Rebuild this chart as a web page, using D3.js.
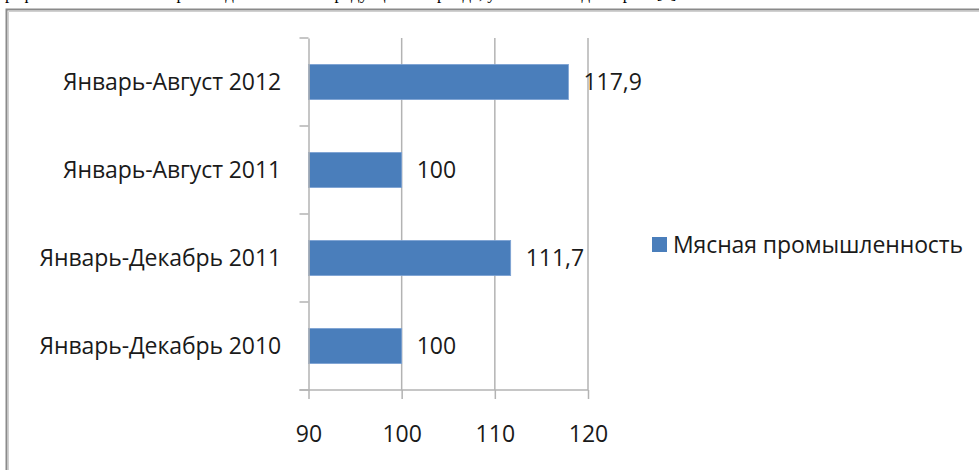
<!DOCTYPE html>
<html>
<head>
<meta charset="utf-8">
<script src="https://cdn.jsdelivr.net/npm/d3@7"></script>
<style>
  html, body { margin: 0; padding: 0; background: #fff; }
  svg { display: block; }
</style>
</head>
<body>
<svg id="chart" width="979" height="470"></svg>
<script>
// Index of meat industry output, by period (previous period = 100)
const categories = ["Январь-Август 2012", "Январь-Август 2011", "Январь-Декабрь 2011", "Январь-Декабрь 2010"];
const values = [117.9, 100, 111.7, 100];
const valueLabels = ["117,9", "100", "111,7", "100"];
const xTicks = [90, 100, 110, 120];
const seriesName = "Мясная промышленность";

const font = "'Open Sans', 'DejaVu Sans', sans-serif";
const svg = d3.select("#chart");

// Fragment of the preceding paragraph, clipped by the top edge
svg.append("text")
  .attr("x", -2).attr("y", -1)
  .attr("font-family", "'Liberation Serif', serif")
  .attr("font-size", 17)
  .attr("fill", "#000")
  .text("графически изменение производства мясной продукции в периоде, указанные года на рис. [1].");

// Outer frame of the chart object (runs past the right and bottom edges)
svg.append("path")
  .attr("d", "M6.5,480 V9.5 H990")
  .attr("fill", "none").attr("stroke", "#8a8a8a").attr("stroke-width", 2);
svg.append("path")
  .attr("d", "M8.5,480 V11.5 H990")
  .attr("fill", "none").attr("stroke", "#d0d0d0").attr("stroke-width", 1);

const plot = { left: 308.5, right: 588, top: 38, bottom: 390 };

const x = d3.scaleLinear().domain([90, 120]).range([plot.left, plot.right]);
const y = d3.scaleBand().domain(categories).range([plot.top, plot.bottom]).paddingInner(0.6).paddingOuter(0.3);
const yBands = d3.scaleBand().domain(categories).range([plot.top, plot.bottom]);

const gridColor = "#b3b3b3";
const textColor = "#1a1a1a";

// Vertical gridlines
svg.append("g").selectAll("line")
  .data(xTicks.filter(t => t !== 90))
  .join("line")
  .attr("x1", d => x(d)).attr("x2", d => x(d))
  .attr("y1", plot.top).attr("y2", plot.bottom)
  .attr("stroke", gridColor).attr("stroke-width", 1.5);

// Bars
svg.append("g").selectAll("rect")
  .data(categories)
  .join("rect")
  .attr("x", x(90))
  .attr("y", d => y(d))
  .attr("width", (d, i) => x(values[i]) - x(90))
  .attr("height", y.bandwidth())
  .attr("fill", "#4a7ebb")
  .attr("stroke", "#7ea3d4").attr("stroke-width", 0.8);

// Category axis
const yAxis = d3.axisLeft(yBands).tickSize(0).tickFormat("");
const gy = svg.append("g").attr("transform", `translate(${plot.left},0)`).call(yAxis);
gy.select(".domain").attr("stroke", gridColor).attr("stroke-width", 1.5);
// tick marks between categories
const bounds = categories.map(c => yBands(c)).concat([plot.bottom]);
svg.append("g").selectAll("line")
  .data(bounds)
  .join("line")
  .attr("x1", plot.left - 9).attr("x2", plot.left)
  .attr("y1", d => d).attr("y2", d => d)
  .attr("stroke", gridColor).attr("stroke-width", 1.5);

// Category labels
svg.append("g").selectAll("text")
  .data(categories)
  .join("text")
  .attr("x", 281)
  .attr("y", d => yBands(d) + yBands.bandwidth() / 2)
  .attr("dy", "0.35em")
  .attr("text-anchor", "end")
  .attr("font-family", font)
  .attr("font-size", 23)
  .attr("letter-spacing", -0.1)
  .attr("fill", textColor)
  .text(d => d);

// Value axis
const xAxis = d3.axisBottom(x).tickValues(xTicks).tickSize(9).tickFormat(d3.format("d"));
const gx = svg.append("g").attr("transform", `translate(0,${plot.bottom})`).call(xAxis);
gx.select(".domain").attr("d", `M${plot.left - 9},0H${plot.right}`)
  .attr("stroke", gridColor).attr("stroke-width", 1.5);
gx.selectAll(".tick line").attr("stroke", gridColor).attr("stroke-width", 1.5);
gx.selectAll(".tick text")
  .attr("y", 52).attr("dy", 0)
  .attr("font-family", font).attr("font-size", 23).attr("fill", textColor);

// Data labels
svg.append("g").selectAll("text")
  .data(categories)
  .join("text")
  .attr("x", (d, i) => x(values[i]) + 15)
  .attr("y", d => y(d) + y.bandwidth() / 2)
  .attr("dy", "0.35em")
  .attr("font-family", font)
  .attr("font-size", 23)
  .attr("fill", textColor)
  .text((d, i) => valueLabels[i]);

// Legend
const legend = svg.append("g").attr("transform", "translate(652,237)");
legend.append("rect").attr("width", 15).attr("height", 15).attr("fill", "#4a7ebb");
legend.append("text")
  .attr("x", 21).attr("y", 7.5).attr("dy", "0.35em")
  .attr("font-family", font).attr("font-size", 23)
  .attr("letter-spacing", -0.1)
  .attr("fill", textColor)
  .text(seriesName);
</script>
</body>
</html>
